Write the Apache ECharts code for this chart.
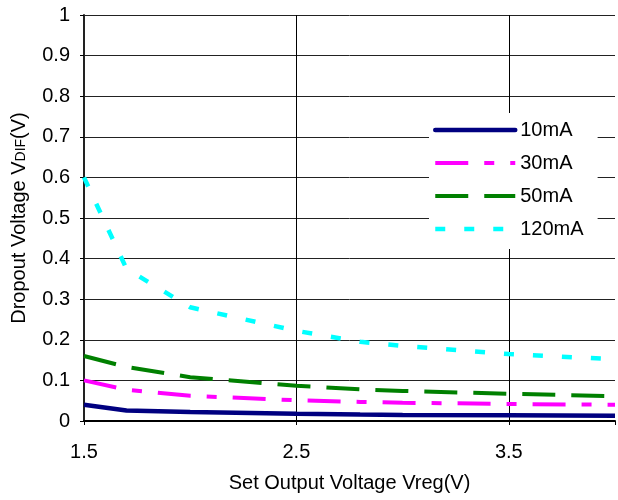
<!DOCTYPE html>
<html>
<head>
<meta charset="utf-8">
<script src="https://cdn.jsdelivr.net/npm/echarts@6/dist/echarts.min.js"></script>
<style>
html,body{margin:0;padding:0;background:#fff;}
#chart{width:618px;height:500px;}
</style>
</head>
<body>
<div id="chart"></div>
<script>
// Data
const vreg = [1.5, 1.7, 2.0, 2.5, 2.8, 3.0, 3.5, 4.0];
const seriesNames = ['10mA', '30mA', '50mA', '120mA'];
const drop10mA  = [0.040, 0.026, 0.022, 0.018, 0.016, 0.015, 0.014, 0.013];
const drop30mA  = [0.100, 0.077, 0.062, 0.051, 0.047, 0.045, 0.042, 0.040];
const drop50mA  = [0.160, 0.133, 0.108, 0.087, 0.078, 0.074, 0.067, 0.061];
const drop120mA = [0.600, 0.375, 0.280, 0.222, 0.195, 0.185, 0.165, 0.152];

const pairs = ys => vreg.map((x, i) => [x, ys[i]]);
const FONT = "'Liberation Sans', Arial, sans-serif";

const styles = [
  {color: '#000080', width: 4.5, type: 'solid'},
  {color: '#FF00FF', width: 4, type: [33, 16, 10, 16]},
  {color: '#008000', width: 4, type: [33, 16]},
  {color: '#00FFFF', width: 4.5, type: [10, 19]}
];
const allData = [drop10mA, drop30mA, drop50mA, drop120mA];

const chart = echarts.init(document.getElementById('chart'), null, {renderer: 'canvas'});
chart.setOption({
  animation: false,
  backgroundColor: '#fff',
  grid: {left: 84, right: -1, top: 15, bottom: 79, containLabel: false},
  legend: {
    orient: 'vertical',
    left: 429, top: 113,
    padding: [7, 14, 10, 4],
    backgroundColor: '#fff',
    itemWidth: 80, itemHeight: 14, itemGap: 13,
    textStyle: {fontFamily: FONT, fontSize: 20, color: '#000'},
    itemStyle: {opacity: 0},
    data: seriesNames.map((n, i) => ({
      name: n,
      itemStyle: {opacity: 0, color: 'transparent', borderWidth: 0},
      lineStyle: {color: styles[i].color, width: styles[i].width, type: styles[i].type, cap: i === 0 ? 'round' : 'butt', opacity: 1}
    }))
  },
  xAxis: {
    type: 'value', min: 1.5, max: 4, interval: 1,
    name: 'Set Output Voltage Vreg(V)',
    nameLocation: 'middle', nameGap: 52,
    nameTextStyle: {fontFamily: FONT, fontSize: 20, color: '#000'},
    axisLine: {show: true, lineStyle: {color: '#000', width: 2}},
    axisTick: {show: true, inside: false, length: 4, lineStyle: {color: '#000'}},
    axisLabel: {fontFamily: FONT, fontSize: 20, color: '#000', margin: 21,
      formatter: v => (Math.abs(v - 4) < 1e-9 ? '' : v.toFixed(1))},
    splitLine: {show: true, showMaxLine: false, lineStyle: {color: '#000', width: 1}}
  },
  yAxis: {
    type: 'value', min: 0, max: 1, interval: 0.1,
    name: '{a|Dropout Voltage V}{b|DIF}{a|(V)}',
    nameLocation: 'middle', nameGap: 55, nameRotate: 90,
    nameTextStyle: {fontFamily: FONT, fontSize: 20, color: '#000',
      rich: {a: {fontFamily: FONT, fontSize: 20, color: '#000'},
             b: {fontFamily: FONT, fontSize: 14, color: '#000', padding: [5,0,0,0]}}},
    axisLine: {show: true, lineStyle: {color: '#222', width: 2}},
    axisTick: {show: true, inside: false, length: 4, lineStyle: {color: '#000'}},
    axisLabel: {fontFamily: FONT, fontSize: 20, color: '#000', margin: 14,
      formatter: v => String(Math.round(v * 10) / 10)},
    splitLine: {show: true, lineStyle: {color: '#222', width: 1}}
  },
  series: seriesNames.map((n, i) => ({
    name: n, type: 'line', data: pairs(allData[i]),
    symbol: 'none', showSymbol: false,
    lineStyle: {color: styles[i].color, width: styles[i].width, type: styles[i].type, cap: 'butt'},
    itemStyle: {color: styles[i].color},
    z: 2 + i
  }))
});
</script>
</body>
</html>
